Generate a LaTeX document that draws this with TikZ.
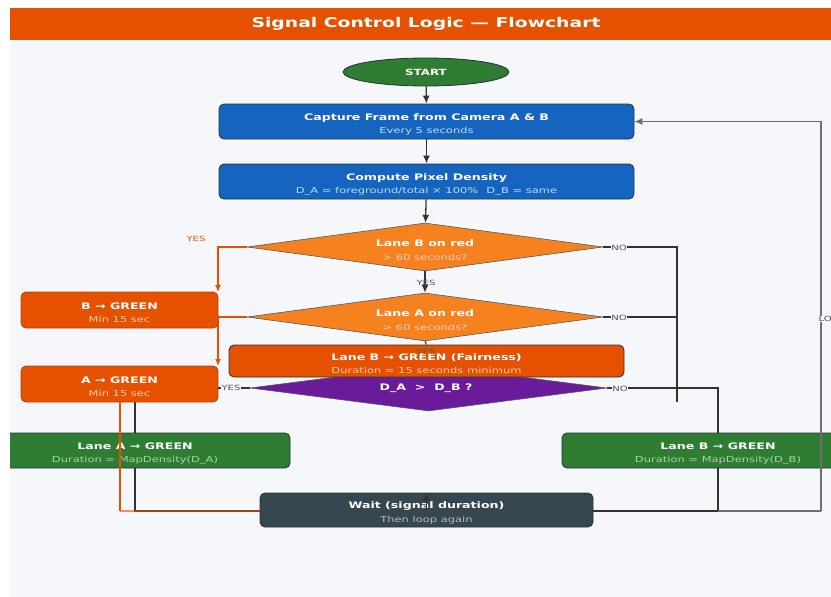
\documentclass[tikz,border=0pt]{standalone}
\usepackage{fontspec}
\setmainfont{DejaVu Sans}[FakeStretch=1.4]
\usetikzlibrary{shapes.geometric,arrows.meta}
\definecolor{panelbg}{HTML}{F5F7FB}
\definecolor{barorange}{HTML}{E65100}
\definecolor{boxblue}{HTML}{1565C0}
\definecolor{boxgreen}{HTML}{2E7D32}
\definecolor{boxorange}{HTML}{E65100}
\definecolor{diaorange}{HTML}{F5821F}
\definecolor{diapurple}{HTML}{6A1B9A}
\definecolor{boxslate}{HTML}{37474F}
\definecolor{edgec}{HTML}{263238}
\definecolor{linec}{HTML}{333333}
\definecolor{loopc}{HTML}{6E6E6E}
\definecolor{subblue}{HTML}{BBDEFB}
\definecolor{subgreen}{HTML}{A5D6A7}
\definecolor{suborange}{HTML}{FFCCBC}
\definecolor{subslate}{HTML}{B0BEC5}
\definecolor{lblc}{HTML}{555555}
\definecolor{yesorange}{HTML}{E65100}
\newcommand{\boxtxt}[3]{{\fontsize{9}{10}\selectfont\bfseries\rule{0pt}{12.5pt}#1}\\[1.5pt]{\fontsize{8.2}{9}\selectfont\color{#3}#2}}
\begin{document}
\begin{tikzpicture}[x=1pt,y=-1pt,
  fbox/.style={draw=edgec, line width=0.8pt, rounded corners=5pt, inner sep=0pt, align=center, text=white},
  fdia/.style={diamond, draw=edgec!80, line width=0.6pt, inner sep=0pt},
  dtxt/.style={align=center, text=white, inner sep=0pt},
  arr/.style={draw=linec, line width=1.3pt, -{Latex[length=8pt,width=7pt]}},
  dline/.style={draw=linec, line width=1.1pt},
  oline/.style={draw=boxorange, line width=1.2pt},
  olinea/.style={draw=boxorange, line width=1.2pt, -{Latex[length=7pt,width=6pt]}},
  lbl/.style={text=lblc, font=\fontsize{7.2}{8}\selectfont, inner sep=0pt},
]
\useasboundingbox (0,0) rectangle (831,597);
\fill[white] (0,0) rectangle (831,597);
\fill[panelbg] (10,40) rectangle (831,597);
\fill[barorange] (10,8) rectangle (831,40);
\node[text=white, font=\fontsize{13.4}{15}\selectfont\bfseries] (title) at (426,24) {Signal Control Logic — Flowchart};

\begin{scope}
\clip (10,40) rectangle (831,597);
% coordinates for connector bends
\coordinate (cA) at (135,433);
\coordinate (oA) at (120,402);
\coordinate (rN) at (677,247);
\coordinate (cB) at (718,433);
\coordinate (lp) at (821,511);

% diamonds
\node[fdia, fill=diaorange, minimum width=356pt, minimum height=48pt] (dB) at (425,247) {};
\node[fdia, fill=diaorange, minimum width=356pt, minimum height=48pt] (dA) at (425,317) {};
\node[fdia, fill=diapurple, minimum width=357pt, minimum height=46pt] (dD) at (428.5,388) {};
\node[dtxt] (dBt) at (425,250) {{\fontsize{9}{10}\selectfont\bfseries Lane B on red}\\[2pt]{\fontsize{8.2}{9}\selectfont\color{suborange}> 60 seconds?}};
\node[dtxt] (dAt) at (425,320) {{\fontsize{9}{10}\selectfont\bfseries Lane A on red}\\[2pt]{\fontsize{8.2}{9}\selectfont\color{suborange}> 60 seconds?}};
\node[dtxt, font=\fontsize{9}{10}\selectfont\bfseries] (dDt) at (426,388.5) {D\_A \ > \ D\_B ?};

% dark connectors beneath boxes
\draw[dline] (dD.west) -| (cA);
\draw[dline] (cA |- 0,468) -- (cA |- lp) -- (cA |- lp -| 260,0);
\draw[dline] (dB.east) -- (rN) -- (rN |- 0,402);
\draw[dline] (dA.east) -- (rN |- dA.east);
\draw[dline] (dD.east) -| (cB);
\draw[dline] (cB |- 0,468) -- (cB |- lp) -- (593,511);

% orange YES connectors
\draw[oline] (dB.west) -| (218,285);
\draw[olinea] (218,280) -- (218,292);
\draw[oline] (dA.west) -| (218,360);
\draw[olinea] (218,355) -- (218,366);

% boxes
\node[ellipse, draw=edgec, line width=0.8pt, fill=boxgreen, minimum width=166pt, minimum height=28pt, inner sep=0pt, text=white, font=\fontsize{8.5}{9}\selectfont\bfseries] (start) at (426,72) {START};
\node[fbox, fill=boxblue, minimum width=415pt, minimum height=35pt] (cap) at (426.5,121.5) {\boxtxt{Capture Frame from Camera A \& B}{Every 5 seconds}{subblue}};
\node[fbox, fill=boxblue, minimum width=415pt, minimum height=35pt] (comp) at (426.5,181.5) {\boxtxt{Compute Pixel Density}{D\_A = foreground/total × 100\%\quad D\_B = same}{subblue}};
\node[fbox, fill=boxorange, minimum width=395pt, minimum height=32pt] (fair) at (426.5,361) {\boxtxt{Lane B → GREEN (Fairness)}{Duration = 15 seconds minimum}{suborange}};
\node[fbox, draw=boxorange!80!black, fill=boxorange, minimum width=197pt, minimum height=36pt] (bg) at (119.5,310) {\boxtxt{B → GREEN}{Min 15 sec}{suborange}};
\node[fbox, draw=boxorange!80!black, fill=boxorange, minimum width=197pt, minimum height=36pt] (ag) at (119.5,384) {\boxtxt{A → GREEN}{Min 15 sec}{suborange}};
\node[fbox, fill=boxgreen, minimum width=310pt, minimum height=35pt] (laG) at (135,450.5) {\boxtxt{Lane A → GREEN}{Duration = MapDensity(D\_A)}{subgreen}};
\node[fbox, fill=boxgreen, minimum width=312pt, minimum height=35pt] (lbG) at (718,450.5) {\boxtxt{Lane B → GREEN}{Duration = MapDensity(D\_B)}{subgreen}};
\node[fbox, fill=boxslate, minimum width=333pt, minimum height=34pt] (wait) at (426.5,510) {\boxtxt{Wait (signal duration)}{Then loop again}{subslate}};

% main flow arrows
\draw[arr] (start) -- (cap);
\draw[arr] (cap) -- (comp);
\draw[arr] (comp) -- (dB);
\draw[arr] (dB) -- (dA);
\draw[dline] (dA.south) -- (fair.north);
\draw[arr] (wait.center) -- (wait.north);

% D YES to A->GREEN
\draw[dline] (dD.west) -- (ag.east |- dD.west);

% orange from A->GREEN to wait
\draw[oline] (oA) -- (oA |- lp);
\draw[oline, draw opacity=0.6] (oA |- lp) -- (wait.west |- lp);

% loop back
\draw[draw=loopc, line width=1.1pt] (wait.east |- lp) -- (lp);
\draw[dline] (wait.east |- lp) -- (cB |- lp);
\draw[draw=loopc, line width=1.1pt, -{Latex[length=8pt,width=7pt]}] (lp) -- (lp |- cap.east) -- (cap.east);

% labels
\node[lbl] (yB) at (426,283) {YES};
\node[lbl] (yA) at (426,352) {YES};
\node[lbl, text=yesorange] (yO) at (196,239) {YES};
\node[lbl, fill=panelbg, inner sep=0.5pt] (yD) at (231,388) {YES};
\node[lbl, fill=panelbg, inner sep=0.5pt] (nB) at (619,248) {NO};
\node[lbl, fill=panelbg, inner sep=0.5pt] (nA) at (619,318) {NO};
\node[lbl, fill=panelbg, inner sep=0.5pt] (nD) at (620,389) {NO};
\node[lbl, anchor=west, fill=panelbg, inner sep=0.5pt] (lo) at (818,319) {LOOP};
\end{scope}
\end{tikzpicture}
\end{document}
